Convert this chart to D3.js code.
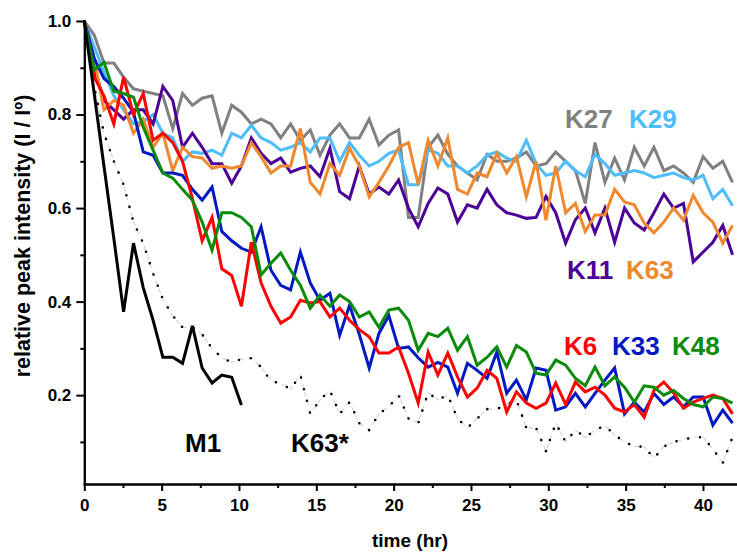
<!DOCTYPE html>
<html>
<head>
<meta charset="utf-8">
<script src="https://cdn.jsdelivr.net/npm/d3@7"></script>
<style>
  html, body { margin: 0; padding: 0; background: #fff; }
  svg { display: block; }
  text { font-family: "Liberation Sans", Arial, sans-serif; font-weight: bold; }
</style>
</head>
<body>
<script>
/*
 * Relative peak intensity of ubiquitin chain types over time.
 */

// sampling times (hr), shared by every series
const TIMES = [0, 0.64, 1.27, 1.91, 2.54, 3.18, 3.81, 4.45, 5.08, 5.72, 6.35, 6.99, 7.62, 8.26,
  8.89, 9.53, 10.16, 10.8, 11.43, 12.07, 12.7, 13.34, 13.97, 14.61, 15.24, 15.88, 16.51, 17.15,
  17.78, 18.42, 19.05, 19.69, 20.32, 20.96, 21.59, 22.23, 22.86, 23.5, 24.13, 24.77, 25.4, 26.04,
  26.67, 27.31, 27.94, 28.58, 29.21, 29.85, 30.48, 31.12, 31.75, 32.39, 33.02, 33.66, 34.29,
  34.93, 35.56, 36.2, 36.83, 37.47, 38.1, 38.74, 39.37, 40.01, 40.64, 41.28, 41.91];

const K27 = [1.0, 0.97, 0.91, 0.91, 0.88, 0.855, 0.85, 0.845, 0.84, 0.77, 0.845, 0.82, 0.835, 0.84,
  0.76, 0.82, 0.805, 0.78, 0.79, 0.78, 0.75, 0.78, 0.745, 0.767, 0.713, 0.756, 0.78, 0.75, 0.75,
  0.79, 0.735, 0.756, 0.767, 0.58, 0.58, 0.73, 0.756, 0.715, 0.69, 0.675, 0.66, 0.715, 0.70, 0.70,
  0.707, 0.72, 0.69, 0.695, 0.72, 0.70, 0.68, 0.61, 0.74, 0.655, 0.707, 0.66, 0.73, 0.69, 0.73,
  0.68, 0.69, 0.675, 0.655, 0.71, 0.685, 0.70, 0.655];

const K29 = [1.0, 0.945, 0.89, 0.84, 0.81, 0.78, 0.785, 0.80, 0.76, 0.75, 0.70, 0.72, 0.717, 0.724,
  0.713, 0.76, 0.75, 0.777, 0.75, 0.74, 0.724, 0.73, 0.74, 0.72, 0.75, 0.75, 0.70, 0.74, 0.713,
  0.69, 0.70, 0.717, 0.724, 0.65, 0.65, 0.724, 0.717, 0.69, 0.69, 0.675, 0.69, 0.713, 0.72, 0.707,
  0.70, 0.745, 0.695, 0.67, 0.675, 0.70, 0.68, 0.667, 0.715, 0.695, 0.67, 0.675, 0.68, 0.675,
  0.665, 0.67, 0.675, 0.665, 0.66, 0.67, 0.62, 0.64, 0.605];

const K11 = [1.0, 0.90, 0.83, 0.81, 0.79, 0.81, 0.81, 0.78, 0.86, 0.83, 0.73, 0.76, 0.73, 0.695,
  0.695, 0.653, 0.69, 0.75, 0.717, 0.695, 0.707, 0.677, 0.685, 0.69, 0.667, 0.728, 0.635, 0.62,
  0.69, 0.63, 0.645, 0.63, 0.66, 0.60, 0.56, 0.61, 0.643, 0.63, 0.57, 0.607, 0.60, 0.64, 0.607,
  0.59, 0.585, 0.578, 0.58, 0.625, 0.59, 0.525, 0.575, 0.60, 0.547, 0.60, 0.527, 0.60, 0.568,
  0.553, 0.59, 0.63, 0.60, 0.61, 0.485, 0.506, 0.527, 0.563, 0.50];

const K63 = [1.0, 0.92, 0.81, 0.83, 0.82, 0.76, 0.79, 0.73, 0.76, 0.68, 0.73, 0.71, 0.707, 0.685,
  0.69, 0.685, 0.69, 0.74, 0.71, 0.675, 0.69, 0.69, 0.77, 0.655, 0.63, 0.695, 0.67, 0.728, 0.69,
  0.624, 0.655, 0.69, 0.73, 0.74, 0.65, 0.745, 0.69, 0.75, 0.64, 0.63, 0.675, 0.667, 0.717, 0.675,
  0.71, 0.624, 0.70, 0.574, 0.69, 0.59, 0.61, 0.55, 0.585, 0.585, 0.64, 0.613, 0.607, 0.568,
  0.547, 0.57, 0.60, 0.574, 0.627, 0.59, 0.57, 0.525, 0.563];

const K6 = [1.0, 0.88, 0.84, 0.78, 0.88, 0.80, 0.845, 0.745, 0.76, 0.74, 0.70, 0.62, 0.53, 0.58,
  0.47, 0.456, 0.39, 0.527, 0.44, 0.39, 0.354, 0.367, 0.403, 0.397, 0.40, 0.367, 0.386, 0.36,
  0.34, 0.325, 0.29, 0.29, 0.303, 0.247, 0.183, 0.292, 0.243, 0.29, 0.239, 0.196, 0.215, 0.253,
  0.236, 0.164, 0.207, 0.183, 0.172, 0.183, 0.226, 0.18, 0.228, 0.207, 0.217, 0.20, 0.172, 0.164,
  0.18, 0.153, 0.21, 0.228, 0.205, 0.172, 0.185, 0.193, 0.20, 0.193, 0.16];

const K33 = [1.0, 0.92, 0.877, 0.86, 0.835, 0.805, 0.72, 0.713, 0.675, 0.675, 0.67, 0.64, 0.617,
  0.645, 0.55, 0.53, 0.514, 0.506, 0.56, 0.467, 0.435, 0.425, 0.506, 0.44, 0.403, 0.418, 0.328,
  0.392, 0.33, 0.258, 0.332, 0.37, 0.30, 0.303, 0.28, 0.26, 0.27, 0.26, 0.204, 0.268, 0.253, 0.236,
  0.292, 0.204, 0.232, 0.19, 0.258, 0.253, 0.168, 0.175, 0.204, 0.175, 0.204, 0.232, 0.258, 0.16,
  0.185, 0.164, 0.204, 0.18, 0.196, 0.175, 0.196, 0.196, 0.136, 0.168, 0.14];

const K48 = [1.0, 0.895, 0.912, 0.85, 0.845, 0.837, 0.773, 0.724, 0.675, 0.664, 0.64, 0.617, 0.57,
  0.51, 0.59, 0.59, 0.58, 0.56, 0.457, 0.482, 0.504, 0.467, 0.435, 0.386, 0.414, 0.39, 0.414, 0.40,
  0.367, 0.378, 0.345, 0.382, 0.386, 0.36, 0.296, 0.332, 0.325, 0.343, 0.296, 0.325, 0.264, 0.281,
  0.303, 0.26, 0.306, 0.292, 0.247, 0.243, 0.275, 0.264, 0.236, 0.22, 0.26, 0.22, 0.239, 0.217,
  0.185, 0.22, 0.217, 0.20, 0.21, 0.193, 0.18, 0.175, 0.196, 0.193, 0.183];

// M1 was only followed for the first ~10 hr
const M1 = [1.0, 0.845, 0.69, 0.535, 0.378, 0.525, 0.43, 0.36, 0.281, 0.281, 0.268, 0.348, 0.258,
  0.226, 0.243, 0.238, 0.179];

const K63_STAR = [1.0, 0.86, 0.76, 0.70, 0.65, 0.57, 0.525, 0.46, 0.405, 0.37, 0.345, 0.345, 0.33,
  0.30, 0.28, 0.27, 0.277, 0.279, 0.26, 0.23, 0.225, 0.213, 0.243, 0.16, 0.19, 0.21, 0.16, 0.185,
  0.14, 0.125, 0.16, 0.175, 0.20, 0.15, 0.14, 0.205, 0.19, 0.20, 0.15, 0.13, 0.15, 0.17, 0.17,
  0.18, 0.19, 0.13, 0.13, 0.08, 0.14, 0.10, 0.125, 0.11, 0.125, 0.135, 0.115, 0.10, 0.09, 0.09,
  0.065, 0.09, 0.10, 0.105, 0.11, 0.11, 0.085, 0.055, 0.11];

const X_TICKS = [0, 5, 10, 15, 20, 25, 30, 35, 40];
const Y_TICKS = [0.2, 0.4, 0.6, 0.8, 1.0];

/*
 * Layout.
 */

const WIDTH = 737;
const HEIGHT = 552;
const LEFT = 84.3;
const TOP = 21;
const BOTTOM = 484;

const COLORS = {
  K27: '#808080',
  K29: '#4dbdfd',
  K11: '#4b0096',
  K63: '#f0882e',
  K6: '#ff0000',
  K33: '#0019c3',
  K48: '#0a8c0a',
  M1: '#000000'
};

// drawing order: first is at the bottom
const SERIES = [
  { name: 'K27', values: K27 },
  { name: 'K29', values: K29 },
  { name: 'K11', values: K11 },
  { name: 'K63', values: K63 },
  { name: 'K33', values: K33 },
  { name: 'K6', values: K6 },
  { name: 'K48', values: K48 },
  { name: 'M1', values: M1 }
];

const LABELS = [
  { text: 'K27', color: COLORS.K27, x: 565, y: 128 },
  { text: 'K29', color: COLORS.K29, x: 629, y: 128 },
  { text: 'K11', color: COLORS.K11, x: 567, y: 279 },
  { text: 'K63', color: COLORS.K63, x: 626, y: 279 },
  { text: 'K6', color: COLORS.K6, x: 564, y: 355 },
  { text: 'K33', color: COLORS.K33, x: 612, y: 355 },
  { text: 'K48', color: COLORS.K48, x: 672, y: 355 },
  { text: 'M1', color: '#000', x: 185, y: 452 },
  { text: 'K63*', color: '#000', x: 291, y: 452 }
];

const x = d3.scaleLinear().domain([0, 42.2]).range([LEFT, WIDTH]);
const y = d3.scaleLinear().domain([0.01, 1.0]).range([BOTTOM, TOP]);

const svg = d3.select('body')
  .append('svg')
    .attr('width', WIDTH)
    .attr('height', HEIGHT);

const line = d3.line()
    .x((d, i) => x(TIMES[i]))
    .y(d => y(d));

/*
 * K63* is drawn as a dotted trace: faint dashes plus black dots.
 */

svg.append('path')
    .datum(K63_STAR)
    .attr('d', line)
    .attr('fill', 'none')
    .attr('stroke', '#d4d4d4')
    .attr('stroke-width', 1.2)
    .attr('stroke-dasharray', '5,4');

svg.append('path')
    .datum(K63_STAR)
    .attr('d', line)
    .attr('fill', 'none')
    .attr('stroke', '#000')
    .attr('stroke-width', 2.6)
    .attr('stroke-linecap', 'round')
    .attr('stroke-dasharray', '0,12');

svg.selectAll('.series')
  .data(SERIES)
  .enter()
  .append('path')
    .attr('class', 'series')
    .attr('d', d => line(d.values))
    .attr('fill', 'none')
    .attr('stroke', d => COLORS[d.name])
    .attr('stroke-width', 3)
    .attr('stroke-linejoin', 'miter');

/*
 * Axes.
 */

const yAxis = d3.axisLeft(y)
    .tickValues(Y_TICKS)
    .tickFormat(d3.format('.1f'))
    .tickSize(8)
    .tickPadding(5)
    .tickSizeOuter(0);

const yMinor = d3.axisLeft(y)
    .tickValues([0.1, 0.3, 0.5, 0.7, 0.9])
    .tickFormat('')
    .tickSize(4)
    .tickSizeOuter(0);

const xAxis = d3.axisBottom(x)
    .tickValues(X_TICKS)
    .tickSize(7)
    .tickPadding(8)
    .tickSizeOuter(0);

const xMinor = d3.axisBottom(x)
    .tickValues([2.5, 7.5, 12.5, 17.5, 22.5, 27.5, 32.5, 37.5])
    .tickFormat('')
    .tickSize(4)
    .tickSizeOuter(0);

const styleAxis = g => {
  g.selectAll('path, line')
      .attr('stroke', '#000')
      .attr('stroke-width', 2);
  g.selectAll('text')
      .attr('fill', '#000')
      .style('font-size', '17px');
};

svg.append('g')
    .attr('transform', `translate(${LEFT}, 0)`)
    .call(yMinor)
    .call(styleAxis);

svg.append('g')
    .attr('transform', `translate(${LEFT}, 0)`)
    .call(yAxis)
    .call(styleAxis);

svg.append('g')
    .attr('transform', `translate(0, ${BOTTOM})`)
    .call(xMinor)
    .call(styleAxis);

svg.append('g')
    .attr('transform', `translate(0, ${BOTTOM})`)
    .call(xAxis)
    .call(styleAxis);

svg.selectAll('.domain')
    .attr('stroke-linecap', 'square');

// axis titles
svg.append('text')
    .attr('x', 410)
    .attr('y', 547)
    .attr('text-anchor', 'middle')
    .style('font-size', '19px')
    .text('time (hr)');

svg.append('text')
    .attr('transform', 'translate(30, 236) rotate(-90)')
    .attr('text-anchor', 'middle')
    .style('font-size', '21.5px')
    .text('relative peak intensity (I / Iº)');

// series labels
svg.selectAll('.label')
  .data(LABELS)
  .enter()
  .append('text')
    .attr('class', 'label')
    .attr('x', d => d.x)
    .attr('y', d => d.y)
    .attr('fill', d => d.color)
    .style('font-size', '26px')
    .text(d => d.text);
</script>
</body>
</html>
